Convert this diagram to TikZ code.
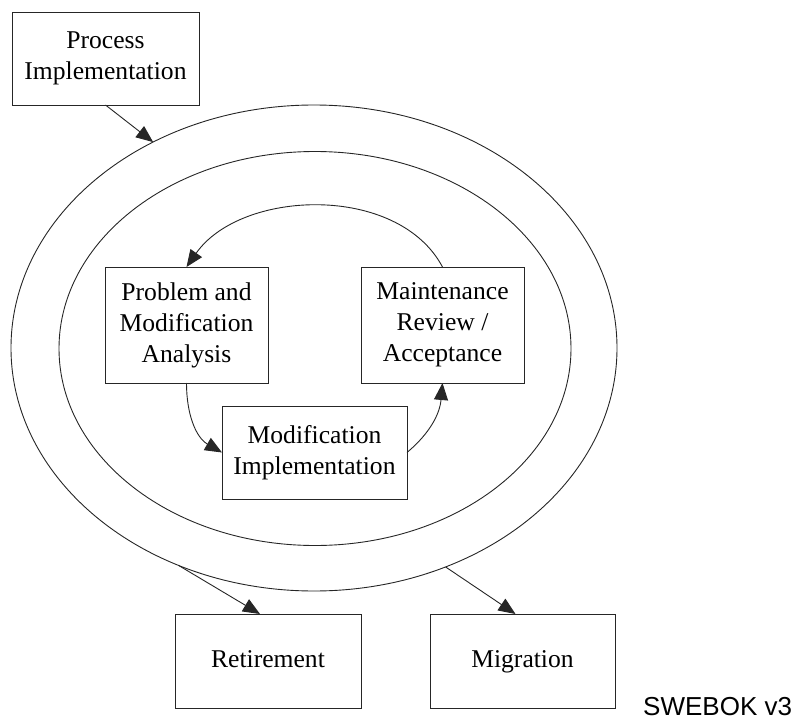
\documentclass[tikz,border=0pt]{standalone}
\usepackage{fontspec}
\setmainfont{Liberation Serif}
\newfontfamily\notefont{Liberation Sans}
\usetikzlibrary{shapes.geometric, arrows.meta, calc, positioning}

\begin{document}
\begin{tikzpicture}[x=1pt, y=-1pt]%{{{
        \useasboundingbox (0, 0) rectangle (796, 728);

        \coordinate (C) at (314, 348);

        \coordinate (P) at (105.5, 58.5);

        \coordinate (S1) at ($(C) + (-127.5, -23)$);
        \coordinate (S2) at ($(C) + (   0.5, 104.5)$);
        \coordinate (S3) at ($(C) + ( 128.5, -23)$);

        \coordinate (E1) at ($(C) + (-46, 313)$);
        \coordinate (E2) at ($(C) + (208.5, 313)$);

        \tikzstyle{ring} = [draw=black!85, line width=0.9pt, ellipse, inner sep=0, outer sep=0];
        \node [ring, minimum width=606, minimum height=486] (outer) at (C) { };
        \node [ring, minimum width=512, minimum height=394] (inner) at ($(C) + (1, 0.5)$) { };

        \tikzstyle{s} = [draw=black!85, line width=0.9pt, rectangle, align=center, inner sep=0, outer sep=0,
                         font=\fontsize{25.6}{31}\selectfont];
        \node [s, minimum width=187, minimum height=93]  (proc) at (P)  {Process\\Implementation};
        \node [s, minimum width=163, minimum height=116] (pma)  at (S1) {Problem and\\Modification\\Analysis};
        \node [s, minimum width=185, minimum height=93]  (mi)   at (S2) {Modification\\Implementation};
        \node [s, minimum width=163, minimum height=116] (mra)  at (S3) {Maintenance\\Review /\\Acceptance};

        \tikzstyle{e} = [s, text height=18, text depth=6];
        \node [e, minimum width=186, minimum height=94]  (ret)  at (E1) {Retirement};
        \node [e, minimum width=185, minimum height=94]  (mig)  at (E2) {Migration};

        \tikzstyle{a} = [draw=black!85, line width=0.9pt, -{Triangle[length=17pt, width=14pt]}];
        \draw [a] (proc.south) -- (outer.128.8);
        \draw [a] (mra.north) to [out=118, in=55, looseness=0.95] (pma.north);
        \draw [a] (pma.south) to [out=-90, in=150] (mi.west);
        \draw [a] (mi.east) to [out=40, in=-95] (mra.south);
        \draw [a] (outer.238.4) -- ([xshift=-8]ret.north);
        \draw [a] (outer.301.6) -- ([xshift=-7]mig.north);

        \node [anchor=base west, inner sep=0, font=\notefont\fontsize{26}{30}\selectfont] (note) at (643, 715) {SWEBOK v3};
    \end{tikzpicture}
\end{document}
